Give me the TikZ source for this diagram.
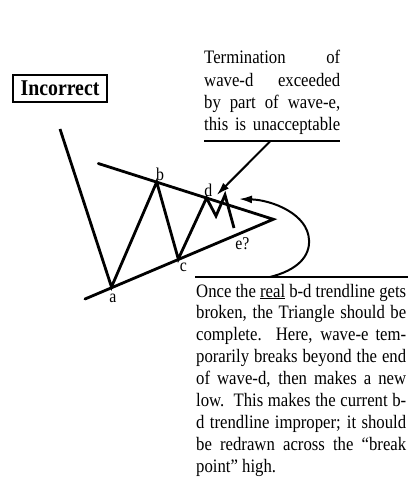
\documentclass[tikz,border=0pt]{standalone}
\usepackage{fontspec}
\setmainfont{Liberation Serif}[FakeStretch=0.88]
\usetikzlibrary{arrows.meta}

\begin{document}
\begin{tikzpicture}[x=1pt, y=-1pt,
    trend/.style={line width=2.8pt, line cap=round},
    wave/.style={line width=2.8pt, line join=miter},
    rulebar/.style={line width=2pt},
    pointer/.style={line width=2pt, -{Latex[length=13pt,width=8pt]}},
    lbl/.style={font=\fontsize{18}{20}\selectfont, inner sep=0pt},
    txt/.style={font=\fontsize{19}{22}\selectfont, inner sep=0pt, anchor=base west}]
    \useasboundingbox (0,0) rectangle (408,481);
    % boxed heading
    \node[draw, line width=1.6pt, minimum width=94pt, minimum height=27pt, inner sep=0pt,
        font=\fontsize{22.5}{24}\selectfont\bfseries] (tag) at (60,88.5) {Incorrect};
    % turning points of the triangle
    \coordinate (start) at (60,129);
    \coordinate (a) at (111.5,287);
    \coordinate (b) at (156.7,182);
    \coordinate (c) at (178.3,259);
    \coordinate (d) at (206.5,198);
    \coordinate (dlow) at (216,216);
    \coordinate (dhigh) at (225,195);
    \coordinate (e) at (234,228);
    \coordinate (apex) at (273.3,219.3);
    \coordinate (upper0) at (98.3,163.5);
    \coordinate (lower0) at (85,299);
    % trendlines
    \draw[trend] (upper0) -- (apex) -- (lower0);
    % waves
    \draw[wave] (start) -- (a) -- (b) -- (c) -- (d) -- (dlow) -- (dhigh) -- (e);
    \node[lbl] (la) at (113,298) {a};
    \node[lbl] (lb) at (160,174) {b};
    \node[lbl] (lc) at (183.3,267) {c};
    \node[lbl] (ld) at (208.3,190) {d};
    \node[lbl] (le) at (242.3,244) {e?};
    % upper note
    \foreach \line [count=\i] in {{Termination of},{wave-d exceeded},{by part of wave-e,},{this is unacceptable}}
        \node[txt] (note\i) at (204,{64+22.3*(\i-1)}) {\makebox[136pt][s]{\line}};
    \coordinate (rule1w) at (204,141.5);
    \coordinate (rule1e) at (340,141.5);
    \draw[rulebar] (rule1w) -- (rule1e);
    \coordinate (tail1) at (270,141.5);
    \coordinate (tip1) at (216.7,195);
    \draw[pointer] (tail1) -- (tip1);
    % lower note
    \foreach \line [count=\i] in {{Once the \underline{real} b-d trendline gets},{broken, the Triangle should be},{complete.\ \ Here, wave-e tem-},{porarily breaks beyond the end},{of wave-d, then makes a new},{low.\ \ This makes the current b-},{d trendline improper; it should},{be redrawn across the ``break}}
        \node[txt] (body\i) at (196,{297+21.9*(\i-1)}) {\makebox[210pt][s]{\line}};
    \node[txt] (body9) at (196,472) {point'' high.};
    \coordinate (rule2w) at (195,277.3);
    \coordinate (rule2e) at (408,277.3);
    \draw[rulebar] (rule2w) -- (rule2e);
    % loop back to the break point
    \coordinate (loop0) at (270,277);
    \coordinate (loopmid) at (309,240);
    \coordinate (loop1) at (239,199);
    \draw[pointer] (loop0) .. controls (298,270) and (310,256) .. (loopmid)
        .. controls (308,214) and (272,200) .. (loop1);
\end{tikzpicture}
\end{document}
